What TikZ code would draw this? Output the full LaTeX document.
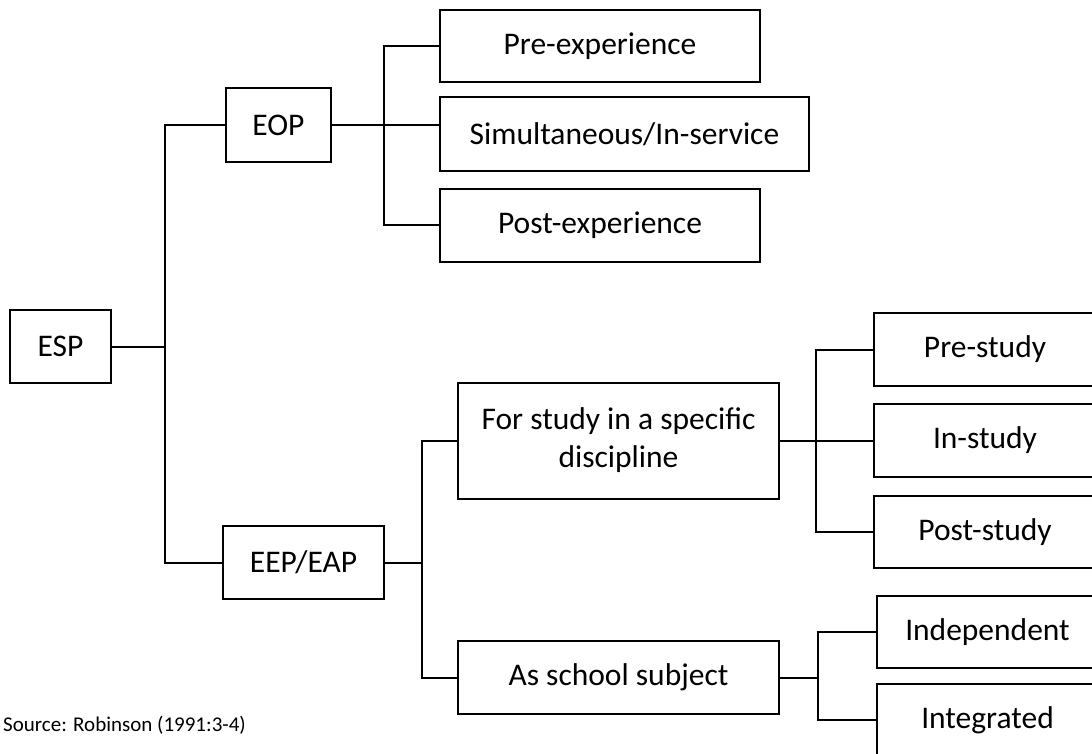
\documentclass[tikz,border=0pt]{standalone}
\usepackage{fontspec}
\setmainfont{Carlito}
\usetikzlibrary{calc}
\tikzset{
	box/.style={draw,line width=2pt,inner sep=0pt,align=center,
		font=\fontsize{31.5}{38}\selectfont},
	link/.style={line width=2pt},
}
\begin{document}
\begin{tikzpicture}[x=1pt,y=-1pt]
	\useasboundingbox (0,0) rectangle (1092,754);
	\clip (0,0) rectangle (1092,754);
	%root
	\node [box,minimum width=101pt,minimum height=73pt] (esp) at (60.5,346.5) {ESP};
	%first level
	\node [box,minimum width=105pt,minimum height=74pt] (eop) at (278.5,125) {EOP};
	\node [box,minimum width=161pt,minimum height=73pt] (eep) at (303.5,562.5) {EEP/EAP};
	%EOP branch
	\node [box,minimum width=320pt,minimum height=72pt] (preexp) at (600,46) {Pre-experience};
	\node [box,minimum width=369pt,minimum height=74pt] (simul) at (624.5,134) {Simultaneous/In-service};
	\node [box,minimum width=320pt,minimum height=73pt] (postexp) at (600,225.5) {Post-experience};
	%EEP branch
	\node [box,minimum width=321pt,minimum height=116pt] (forstudy) at (618.5,441) {\raisebox{5pt}{\begin{tabular}{@{}c@{}}For study in a specific\\discipline\end{tabular}}};
	\node [box,minimum width=321pt,minimum height=73pt] (asschool) at (618.5,677.5) {As school subject};
	\node [box,minimum width=222pt,minimum height=73pt] (prestudy) at (985,349.5) {Pre-study};
	\node [box,minimum width=222pt,minimum height=73pt] (instudy) at (985,440.5) {In-study};
	\node [box,minimum width=222pt,minimum height=72pt] (poststudy) at (985,532) {Post-study};
	\node [box,minimum width=221pt,minimum height=72pt] (indep) at (987.5,632) {Independent};
	\node [box,minimum width=221pt,minimum height=72pt] (integ) at (987.5,720) {Integrated};
	%source
	\node [anchor=base west,inner sep=0pt,font=\fontsize{21}{25}\selectfont] (src) at (3,731) {Source: Robinson (1991:3-4)};
	%junctions
	\coordinate (jesp) at (165,346.5);
	\coordinate (jeop) at (384,125);
	\coordinate (jeep) at (422,562.5);
	\coordinate (jstudy) at (816,441);
	\coordinate (jschool) at (818,677.5);
	%connectors
	\draw [link] (esp) -- (jesp);
	\draw [link] (jesp) |- (eop);
	\draw [link] (jesp) |- (eep);
	\draw [link] (eop) -- (jeop) -- (simul.west |- jeop);
	\draw [link] (jeop) |- (preexp);
	\draw [link] (jeop) |- (postexp);
	\draw [link] (eep) -- (jeep);
	\draw [link] (jeep) |- (forstudy);
	\draw [link] (jeep) |- (asschool);
	\draw [link] (forstudy) -- (jstudy);
	\foreach \n in {prestudy,instudy,poststudy}{
		\draw [link] (jstudy) |- (\n);
	}
	\draw [link] (asschool) -- (jschool);
	\draw [link] (jschool) |- (indep);
	\draw [link] (jschool) |- (integ);
\end{tikzpicture}
\end{document}
